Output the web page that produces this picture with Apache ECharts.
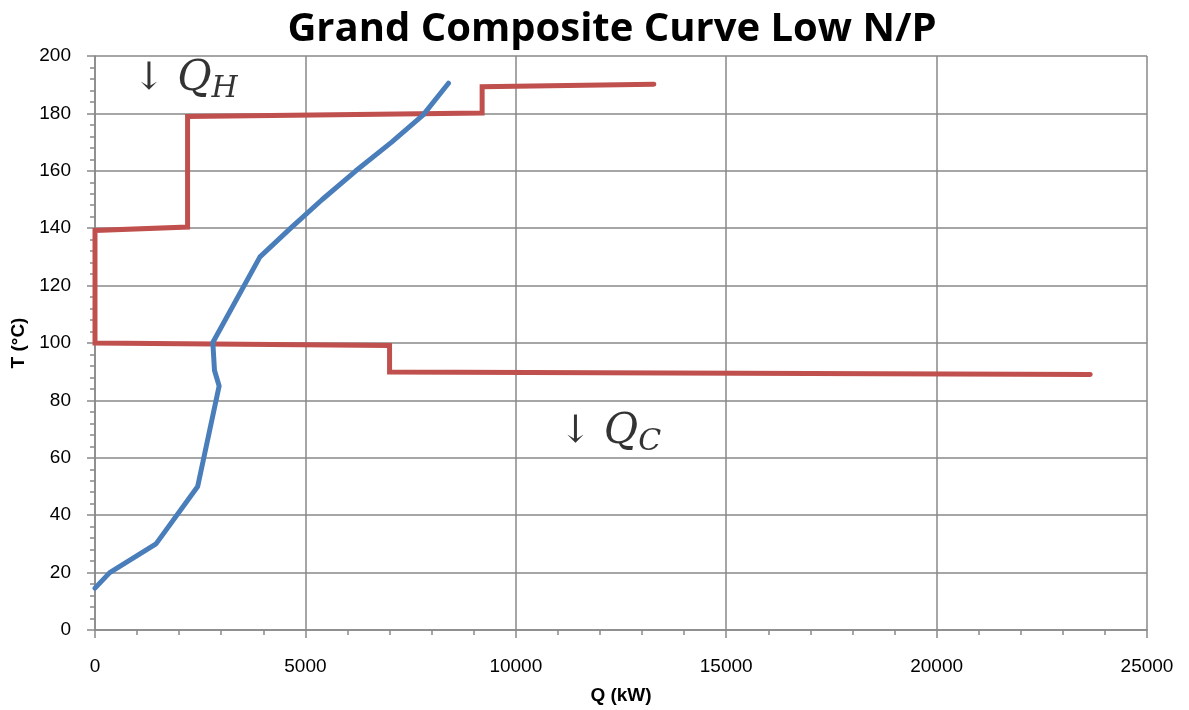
<!DOCTYPE html>
<html>
<head>
<meta charset="utf-8">
<title>Grand Composite Curve Low N/P</title>
<script src="https://cdn.jsdelivr.net/npm/echarts@6/dist/echarts.min.js"></script>
<style>
  html, body { margin: 0; padding: 0; background: #fff; }
  #chart { width: 1189px; height: 710px; }
</style>
</head>
<body>
<div id="chart"></div>
<script>
"use strict";
// grand composite curve (Q kW, T degC)
var gccQ = [13280, 9200, 9200, 2200, 2200, 0, 0, 7000, 7000, 23650];
var gccT = [190.2, 189.3, 180.1, 178.9, 140.4, 139.2, 100, 99.1, 89.9, 89.0];

// second curve
var curveQ = [0, 350, 1450, 2440, 2950, 2840, 2800, 3920, 4650, 5400, 6200, 7050, 7800, 8400];
var curveT = [14.6, 20, 30, 50, 85, 90.4, 100.2, 130, 140, 150, 160, 170, 179.5, 190.5];

// labels placed in data units
var noteNames = ['H', 'C'];
var noteQ = [2150, 12250];
var noteT = [192, 69];

var xTicks = { min: 0, max: 25000, interval: 5000 };
var yTicks = { min: 0, max: 200, interval: 20 };

function pairs(xs, ys) {
    var out = [];
    for (var i = 0; i < xs.length; i++) {
        out.push([xs[i], ys[i]]);
    }
    return out;
}

function notes() {
    var out = [];
    for (var i = 0; i < noteNames.length; i++) {
        out.push({ name: noteNames[i], value: [noteQ[i], noteT[i]] });
    }
    return out;
}

var gridColor = '#898989';
var labelFont = 'Liberation Sans';

var option = {
    animation: false,
    backgroundColor: '#ffffff',
    title: {
        text: 'Grand Composite Curve Low N/P',
        left: 607,
        top: 5,
        textAlign: 'center',
        textStyle: {
            fontFamily: 'Open Sans',
            fontWeight: 'bold',
            fontSize: 40,
            color: '#000'
        }
    },
    grid: { left: 95, right: 42, top: 56, bottom: 78 },
    xAxis: {
        type: 'value',
        min: xTicks.min,
        max: xTicks.max,
        interval: xTicks.interval,
        name: 'Q (kW)',
        nameLocation: 'middle',
        nameGap: 56,
        nameTextStyle: { fontFamily: labelFont, fontWeight: 'bold', fontSize: 19, color: '#000' },
        axisLine: { show: true, lineStyle: { color: gridColor, width: 1.5 } },
        axisTick: { show: true, length: 8, lineStyle: { color: gridColor, width: 1.5 } },
        minorTick: { show: true, splitNumber: 5, length: 5, lineStyle: { color: gridColor, width: 1.5 } },
        axisLabel: {
            margin: 27, fontFamily: labelFont, fontSize: 19, color: '#000',
            formatter: function (v) { return String(v); }
        },
        splitLine: { show: true, lineStyle: { color: gridColor, width: 1.5 } }
    },
    yAxis: {
        type: 'value',
        min: yTicks.min,
        max: yTicks.max,
        interval: yTicks.interval,
        name: 'T (°C)',
        nameLocation: 'middle',
        nameGap: 66,
        nameTextStyle: { fontFamily: labelFont, fontWeight: 'bold', fontSize: 19, color: '#000' },
        axisLine: { show: true, lineStyle: { color: gridColor, width: 1.5 } },
        axisTick: { show: true, length: 8, lineStyle: { color: gridColor, width: 1.5 } },
        minorTick: { show: true, splitNumber: 5, length: 5, lineStyle: { color: gridColor, width: 1.5 } },
        axisLabel: { margin: 24, fontFamily: labelFont, fontSize: 19, color: '#000' },
        splitLine: { show: true, lineStyle: { color: gridColor, width: 1.5 } }
    },
    series: [
        {
            name: 'GCC',
            type: 'line',
            data: pairs(gccQ, gccT),
            showSymbol: false,
            symbol: 'none',
            lineStyle: { color: '#C0504D', width: 5, cap: 'round', join: 'miter' },
            z: 3
        },
        {
            name: 'Curve',
            type: 'line',
            data: pairs(curveQ, curveT),
            showSymbol: false,
            symbol: 'none',
            lineStyle: { color: '#4A7EBB', width: 5, cap: 'round', join: 'round' },
            z: 4
        },
        {
            name: 'Notes',
            type: 'scatter',
            data: notes(),
            symbolSize: 1,
            itemStyle: { color: 'rgba(0,0,0,0)' },
            silent: true,
            z: 5,
            label: {
                show: true,
                position: 'inside',
                formatter: function (p) { return '{a|↓ }{q|Q}{s|' + p.name + '}'; },
                rich: {
                    a: { fontFamily: 'DejaVu Serif', fontSize: 38, color: '#000' },
                    q: { fontFamily: 'DejaVu Serif', fontStyle: 'italic', fontSize: 42, color: '#000' },
                    s: { fontFamily: 'DejaVu Serif', fontStyle: 'italic', fontSize: 30, color: '#000', padding: [20, 0, 0, 0] }
                }
            }
        }
    ]
};

var myChart = echarts.init(document.getElementById('chart'), null, { renderer: 'canvas' });
myChart.setOption(option, true);
</script>
</body>
</html>
